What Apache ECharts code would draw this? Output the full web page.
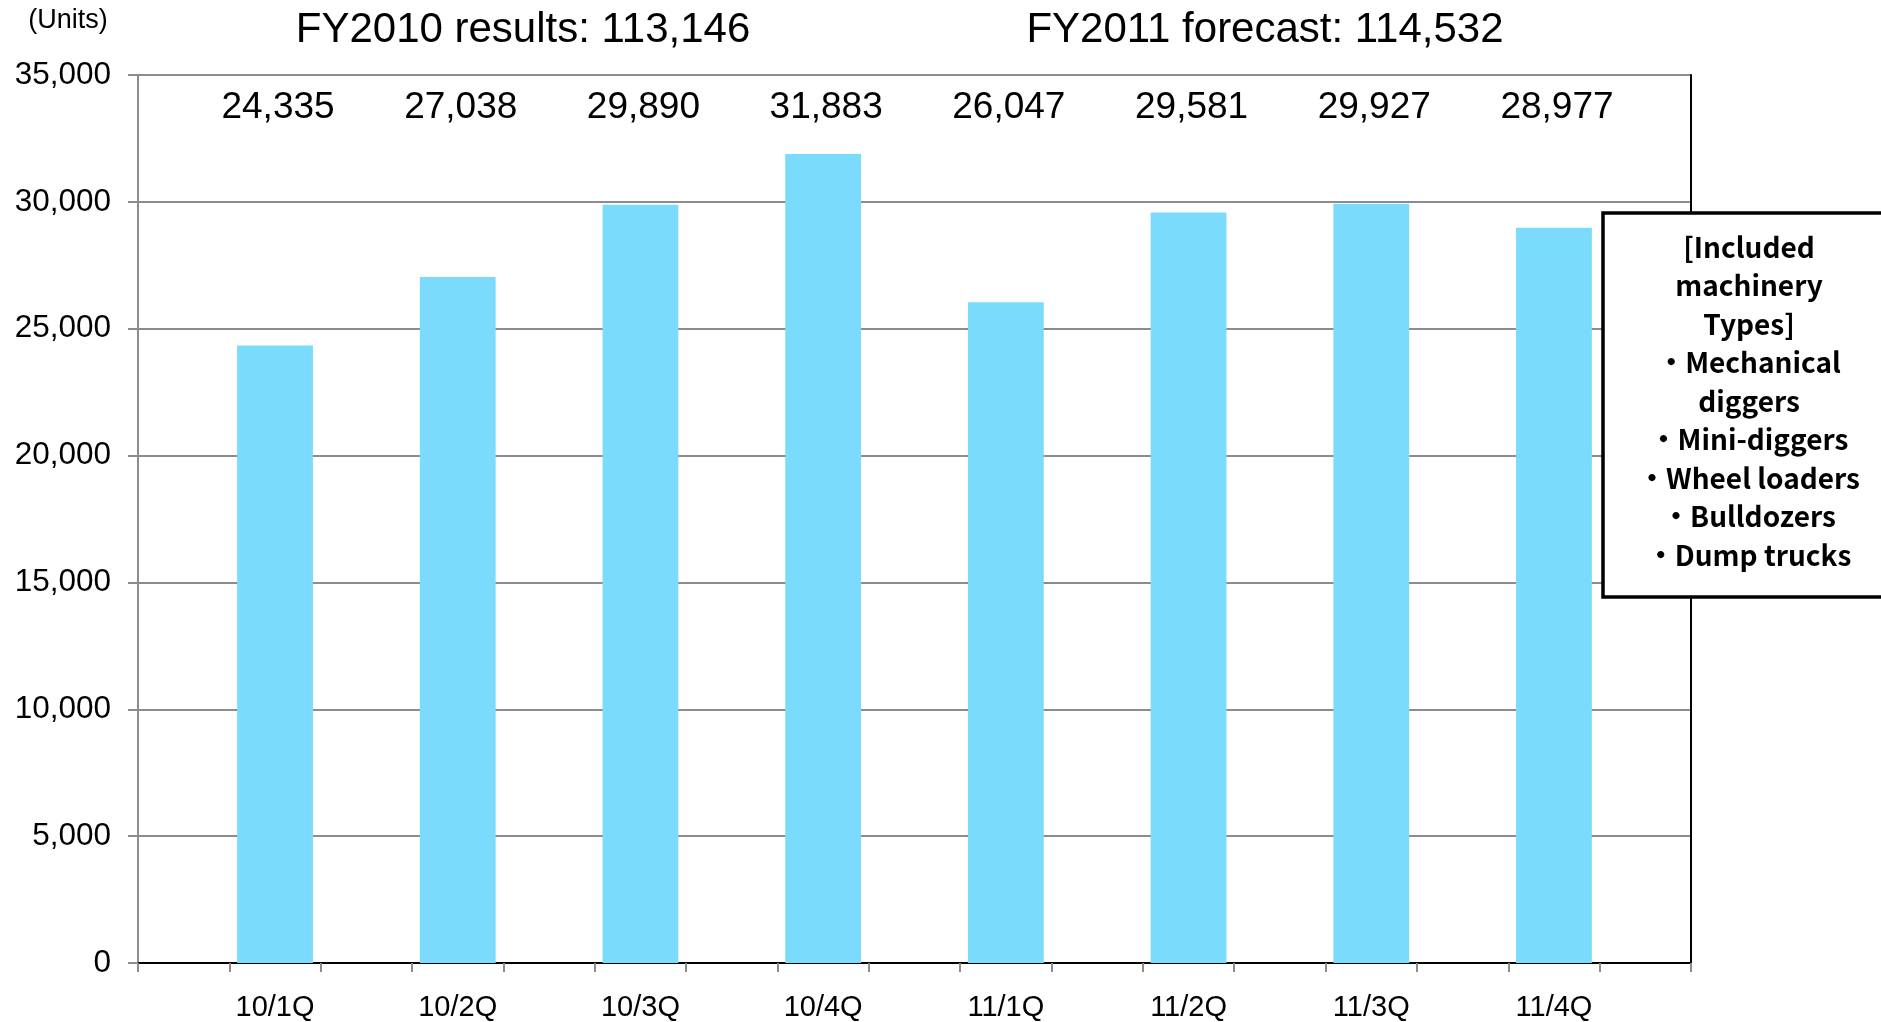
<!DOCTYPE html>
<html>
<head>
<meta charset="utf-8">
<title>Construction machinery units by quarter</title>
<script src="https://cdn.jsdelivr.net/npm/echarts@6/dist/echarts.min.js"></script>
<style>
  html, body { margin: 0; padding: 0; background: #fff; }
  #chart { width: 1881px; height: 1022px; }
</style>
</head>
<body>
<div id="chart"></div>
<script>
// Quarterly units: FY2010 results and FY2011 forecast
const quarters = ['10/1Q', '10/2Q', '10/3Q', '10/4Q', '11/1Q', '11/2Q', '11/3Q', '11/4Q'];
const units = [24335, 27038, 29890, 31883, 26047, 29581, 29927, 28977];
const yTicks = [0, 5000, 10000, 15000, 20000, 25000, 30000, 35000];
const headlines = ['FY2010 results: 113,146', 'FY2011 forecast: 114,532'];
const machineryNote = ['[Included', 'machinery', 'Types]', '・Mechanical', 'diggers', '・Mini-diggers', '・Wheel loaders', '・Bulldozers', '・Dump trucks'];

const FONT = '"Liberation Sans", Arial, sans-serif';
const BAR_COLOR = '#7ADBFD';
const GRID_GRAY = '#8C8C8C';

// Each quarter sits in its own slot with an empty slot on either side,
// so the axis has a tick at every half step between bars.
const slots = [''];
const barData = ['-'];
quarters.forEach((q, i) => {
  slots.push(q, '');
  barData.push(units[i], '-');
});

// Row of value labels along the top of the plot area
const LABEL_ROW = 33700;
const labelData = quarters.map((q, i) => [2 * i + 1, LABEL_ROW, i]);

const fmt = v => v.toLocaleString('en-US');

const chart = echarts.init(document.getElementById('chart'), null, { renderer: 'canvas' });

const option = {
  animation: false,
  backgroundColor: '#ffffff',
  textStyle: { fontFamily: FONT },
  grid: { left: 138, right: 190, top: 75, bottom: 58.5, containLabel: false },
  xAxis: [
    {
      type: 'category',
      data: slots,
      boundaryGap: true,
      position: 'bottom',
      axisLine: { show: true, lineStyle: { color: GRID_GRAY, width: 2 } },
      axisTick: { show: true, interval: 0, length: 9, lineStyle: { color: GRID_GRAY, width: 2 } },
      axisLabel: { interval: 0, margin: 30, fontSize: 29, color: '#000', fontFamily: FONT },
      splitLine: { show: false }
    },
    {
      type: 'category',
      data: slots,
      position: 'top',
      axisLine: { show: true, lineStyle: { color: '#000', width: 2 } },
      axisTick: { show: false },
      axisLabel: { show: false },
      splitLine: { show: false }
    }
  ],
  yAxis: [
    {
      type: 'value',
      min: yTicks[0],
      max: yTicks[yTicks.length - 1],
      interval: yTicks[1] - yTicks[0],
      axisLine: { show: true, lineStyle: { color: GRID_GRAY, width: 2 } },
      axisTick: { show: true, length: 10, lineStyle: { color: GRID_GRAY, width: 2 } },
      axisLabel: { margin: 27, fontSize: 31.5, color: '#000', fontFamily: FONT, formatter: v => fmt(v) },
      splitLine: { show: true, lineStyle: { color: GRID_GRAY, width: 2 } }
    },
    {
      type: 'value',
      min: yTicks[0],
      max: yTicks[yTicks.length - 1],
      position: 'right',
      axisLine: { show: true, lineStyle: { color: '#000', width: 2 } },
      axisTick: { show: false },
      axisLabel: { show: false },
      splitLine: { show: false }
    }
  ],
  series: [
    {
      type: 'bar',
      data: barData,
      barWidth: '83%',
      itemStyle: { color: BAR_COLOR },
      z: 2
    },
    {
      type: 'scatter',
      data: labelData,
      symbolSize: 0,
      silent: true,
      itemStyle: { opacity: 1 },
      label: {
        show: true,
        position: 'inside',
        offset: [3, 0],
        fontSize: 37,
        color: '#000',
        opacity: 1,
        fontFamily: FONT,
        formatter: p => fmt(units[p.value[2]])
      },
      z: 5
    }
  ],
  graphic: [
    {
      type: 'text',
      x: 68, y: 21,
      z: 100,
      style: { text: '(Units)', fontSize: 27, fontFamily: FONT, fill: '#000', textAlign: 'center', textVerticalAlign: 'middle' }
    },
    {
      type: 'text',
      x: 523, y: 30,
      z: 100,
      style: { text: headlines[0], fontSize: 42, fontFamily: FONT, fill: '#000', textAlign: 'center', textVerticalAlign: 'middle' }
    },
    {
      type: 'text',
      x: 1265, y: 30,
      z: 100,
      style: { text: headlines[1], fontSize: 42, fontFamily: FONT, fill: '#000', textAlign: 'center', textVerticalAlign: 'middle' }
    },
    {
      type: 'rect',
      z: 100,
      shape: { x: 1603, y: 213, width: 320, height: 384 },
      style: { fill: '#fff', stroke: '#000', lineWidth: 3.5 }
    },
    {
      type: 'text',
      z: 101,
      x: 1749, y: 401,
      style: {
        text: machineryNote.join('\n'),
        fontSize: 28,
        lineHeight: 38.5,
        fontWeight: 'bold',
        fontFamily: '"Noto Sans CJK JP", "Noto Sans", sans-serif',
        fill: '#000',
        textAlign: 'center',
        textVerticalAlign: 'middle'
      }
    }
  ]
};

chart.setOption(option);
</script>
</body>
</html>
